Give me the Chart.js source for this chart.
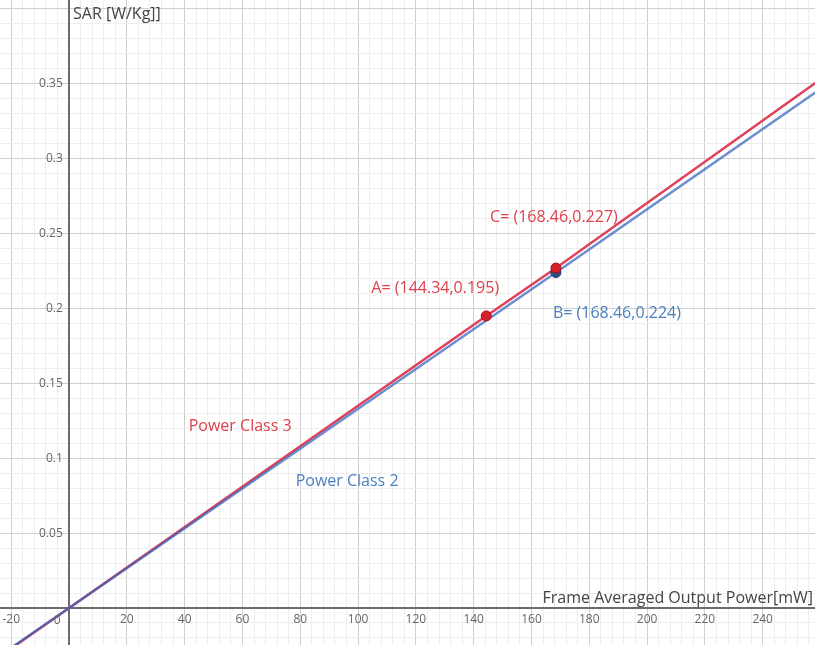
<!DOCTYPE html>
<html>
<head>
<meta charset="utf-8">
<script src="https://cdn.jsdelivr.net/npm/chart.js@4/dist/chart.umd.min.js"></script>
<style>
html,body{margin:0;padding:0;background:#fff;}
#wrap{width:815px;height:645px;}
</style>
</head>
<body>
<div id="wrap"><canvas id="c" width="815" height="645"></canvas></div>
<script>
// ---- data ----
const powerClass3 = [ {x:-25,y:-0.0337}, {x:0,y:0}, {x:144.34,y:0.195}, {x:168.46,y:0.227}, {x:260,y:0.3530} ];
const powerClass2 = [ {x:-25,y:-0.0332}, {x:0,y:0}, {x:168.46,y:0.224}, {x:260,y:0.3466} ];
const pointsRed = [ {x:144.34,y:0.195,name:'A'}, {x:168.46,y:0.227,name:'C'} ];
const pointsBlue = [ {x:168.46,y:0.224,name:'B'} ];
const xTickLabels = [-20,20,40,60,80,100,120,140,160,180,200,220,240];
const yTickLabels = [0.05,0.1,0.15,0.2,0.25,0.3,0.35];
const xTitle = 'Frame Averaged Output Power[mW]';
const yTitle = 'SAR [W/Kg]]';
const seriesNames = ['Power Class 3','Power Class 2'];
const seriesLabelAnchors = [ {x:59.2,y:0.121}, {x:96.2,y:0.0848} ];

const RED = '#e0405a';
const BLUE = 'rgba(50,100,190,0.72)';
const RED_TEXT = '#e0404c';
const BLUE_TEXT = '#4a80c0';
const TEXT_FONT = '"Open Sans", "Noto Sans", sans-serif';

const fmt = v => String(+v.toFixed(2));
const noPad = (s) => { s.paddingTop = 0; s.paddingBottom = 0; s.paddingLeft = 0; s.paddingRight = 0; };

const overlay = {
  id:'overlay',
  afterDatasetsDraw(chart){
    const ctx = chart.ctx, xs = chart.scales.x, ys = chart.scales.y;
    ctx.save();
    // origin label
    ctx.font = '12px ' + TEXT_FONT;
    ctx.fillStyle = '#666';
    ctx.textAlign = 'center'; ctx.textBaseline = 'middle';
    ctx.fillText('0', xs.getPixelForValue(0) - 12, ys.getPixelForValue(0) + 13);
    // axis titles
    ctx.font = '16px ' + TEXT_FONT;
    ctx.fillStyle = '#444';
    ctx.textAlign = 'right'; ctx.textBaseline = 'alphabetic';
    ctx.fillText(xTitle, chart.chartArea.right - 2, ys.getPixelForValue(0) - 5);
    ctx.textAlign = 'left'; ctx.textBaseline = 'top';
    ctx.fillText(yTitle, xs.getPixelForValue(0) + 4, 6);
    // point labels
    ctx.font = '16px ' + TEXT_FONT;
    ctx.textAlign = 'center'; ctx.textBaseline = 'middle';
    const pt = (p) => [xs.getPixelForValue(p.x), ys.getPixelForValue(p.y)];
    const A = pointsRed[0], C = pointsRed[1], B = pointsBlue[0];
    let [ax, ay] = pt(A), [cx, cy] = pt(C), [bx, by] = pt(B);
    ctx.fillStyle = RED_TEXT;
    ctx.fillText(C.name + '= (' + C.x + ',' + C.y + ')', cx - 2, cy - 51);
    ctx.fillText(A.name + '= (' + A.x + ',' + A.y + ')', ax - 51, ay - 28);
    ctx.fillStyle = BLUE_TEXT;
    ctx.fillText(B.name + '= (' + B.x + ',' + B.y + ')', bx + 61, by + 41);
    // series labels
    const cols = [RED_TEXT, BLUE_TEXT];
    seriesNames.forEach((n,i) => {
      const [px, py] = pt(seriesLabelAnchors[i]);
      ctx.fillStyle = cols[i];
      ctx.fillText(n, px, py);
    });
    ctx.restore();
  }
};

const isMajor = (v, step) => Math.abs(Math.round(v/step)*step - v) < 1e-9;

new Chart(document.getElementById('c'), {
  type:'line',
  data:{
    datasets:[
      { label:seriesNames[0], data:powerClass3, borderColor:RED, borderWidth:2.5, pointRadius:0, order:5, tension:0 },
      { label:seriesNames[1], data:powerClass2, borderColor:BLUE, borderWidth:2.5, pointRadius:0, order:4, tension:0 },
      { label:'B', data:pointsBlue, showLine:false, pointRadius:5, pointBackgroundColor:'#2c4f86', pointBorderColor:'#1d3a66', pointBorderWidth:1, order:2 },
      { label:'A,C', data:pointsRed, showLine:false, pointRadius:5, pointBackgroundColor:'#d8202c', pointBorderColor:'#a81018', pointBorderWidth:1, order:1 }
    ]
  },
  options:{
    responsive:false,
    animation:false,
    devicePixelRatio:1,
    layout:{padding:0, autoPadding:false},
    plugins:{ legend:{display:false}, tooltip:{enabled:false} },
    scales:{
      x:{
        type:'linear',
        position:{y:0},
        min:-23.9, max:258.1,
        afterFit:noPad,
        ticks:{
          stepSize:4, autoSkip:false, includeBounds:false, maxRotation:0,
          color:'#666', font:{size:12, family:TEXT_FONT}, padding:4,
          callback:(v)=> xTickLabels.some(t=>Math.abs(t-v)<1e-6) ? String(Math.round(v)) : ''
        },
        grid:{
          drawTicks:false,
          color:(c)=> isMajor(c.tick.value,20) ? '#d0d0d0' : '#eeeeee',
          lineWidth:1
        },
        border:{display:true, color:'#6c6c6c', width:2}
      },
      y:{
        type:'linear',
        position:{x:0},
        min:-0.0247, max:0.406,
        afterFit:noPad,
        ticks:{
          stepSize:0.01, autoSkip:false, includeBounds:false,
          color:'#666', font:{size:12, family:TEXT_FONT}, padding:10,
          callback:(v)=> yTickLabels.some(t=>Math.abs(t-v)<1e-6) ? fmt(v) + '  ' : ''
        },
        grid:{
          drawTicks:false,
          color:(c)=> isMajor(c.tick.value,0.05) ? '#d0d0d0' : '#eeeeee',
          lineWidth:1
        },
        border:{display:true, color:'#6c6c6c', width:2}
      }
    }
  },
  plugins:[overlay]
});
</script>
</body>
</html>
